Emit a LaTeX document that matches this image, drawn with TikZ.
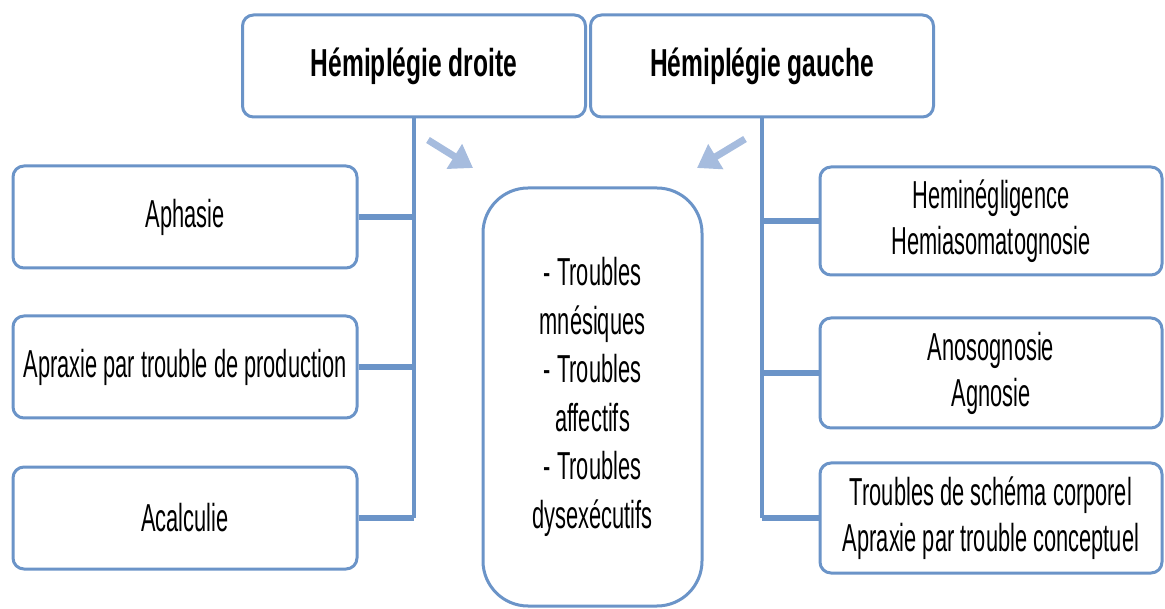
\documentclass[tikz,border=0pt]{standalone}
\usepackage{fontspec}
\setmainfont{Liberation Sans}[FakeStretch=0.56]
\newfontfamily\headfont{Liberation Sans}[FakeStretch=0.63]
\usetikzlibrary{arrows.meta}
\definecolor{frame}{HTML}{6b94c8}
\definecolor{pointer}{HTML}{a6bcde}

\begin{document}
\begin{tikzpicture}[
  x=1pt, y=-1pt,
  every node/.style={font=\fontsize{39}{46}\selectfont, align=center},
  box/.style={draw=frame, line width=3pt, rounded corners=11pt, fill=white, inner sep=0pt},
  side/.style={box, minimum width=344pt, minimum height=102pt},
  head/.style={box, minimum width=343pt, minimum height=102pt,
    font=\fontsize{39}{46}\selectfont\headfont\bfseries},
  stem/.style={draw=frame, line width=3.5pt},
  branch/.style={draw=frame, line width=6pt},
  hint/.style={draw=pointer, line width=7pt, -{Triangle[length=22pt,width=28pt]}}
]
  \useasboundingbox (0,0) rectangle (1165,609);

  % the two headings
  \node[head] (droite) at (414,66) {Hémiplégie droite};
  \node[head] (gauche) at (762,66) {Hémiplégie gauche};

  % left column
  \node[side] (aphasie) at (185,217) {Aphasie};
  \node[side] (apraxie) at (185,367) {Apraxie par trouble de production};
  \node[side] (acalc)   at (185,518) {Acalculie};

  % right column
  \node[side, minimum width=342pt, minimum height=108pt] (hemi)   at (991,221)
    {Heminégligence\\Hemiasomatognosie};
  \node[side, minimum width=342pt, minimum height=110pt] (anoso)  at (991,373)
    {Anosognosie\\Agnosie};
  \node[side, minimum width=342pt, minimum height=110pt] (schema) at (991,518)
    {Troubles de schéma corporel\\Apraxie par trouble conceptuel};

  % shared troubles
  \node[box, rounded corners=45pt, minimum width=219pt, minimum height=418pt,
    font=\fontsize{39}{48.5}\selectfont] (commun) at (592.5,397)
    {- Troubles\\mnésiques\\- Troubles\\affectifs\\- Troubles\\dysexécutifs};

  % tree on the left
  \draw[stem] (droite.south) -- (droite.south |- acalc.east);
  \draw[branch] (aphasie.east) -- (aphasie.east -| droite.south);
  \draw[branch] (apraxie.east) -- (apraxie.east -| droite.south);
  \draw[branch] (acalc.east)   -- (acalc.east -| droite.south);

  % tree on the right
  \draw[stem] (gauche.south) -- (gauche.south |- schema.west);
  \draw[branch] (hemi.west)   -- (hemi.west -| gauche.south);
  \draw[branch] (anoso.west)  -- (anoso.west -| gauche.south);
  \draw[branch] (schema.west) -- (schema.west -| gauche.south);

  % pointers to the middle box
  \coordinate (tailL) at (428,140);
  \coordinate (tipL)  at (473,168);
  \coordinate (tailR) at (745,139);
  \coordinate (tipR)  at (697,168);
  \draw[hint] (tailL) -- (tipL);
  \draw[hint] (tailR) -- (tipR);
\end{tikzpicture}
\end{document}
